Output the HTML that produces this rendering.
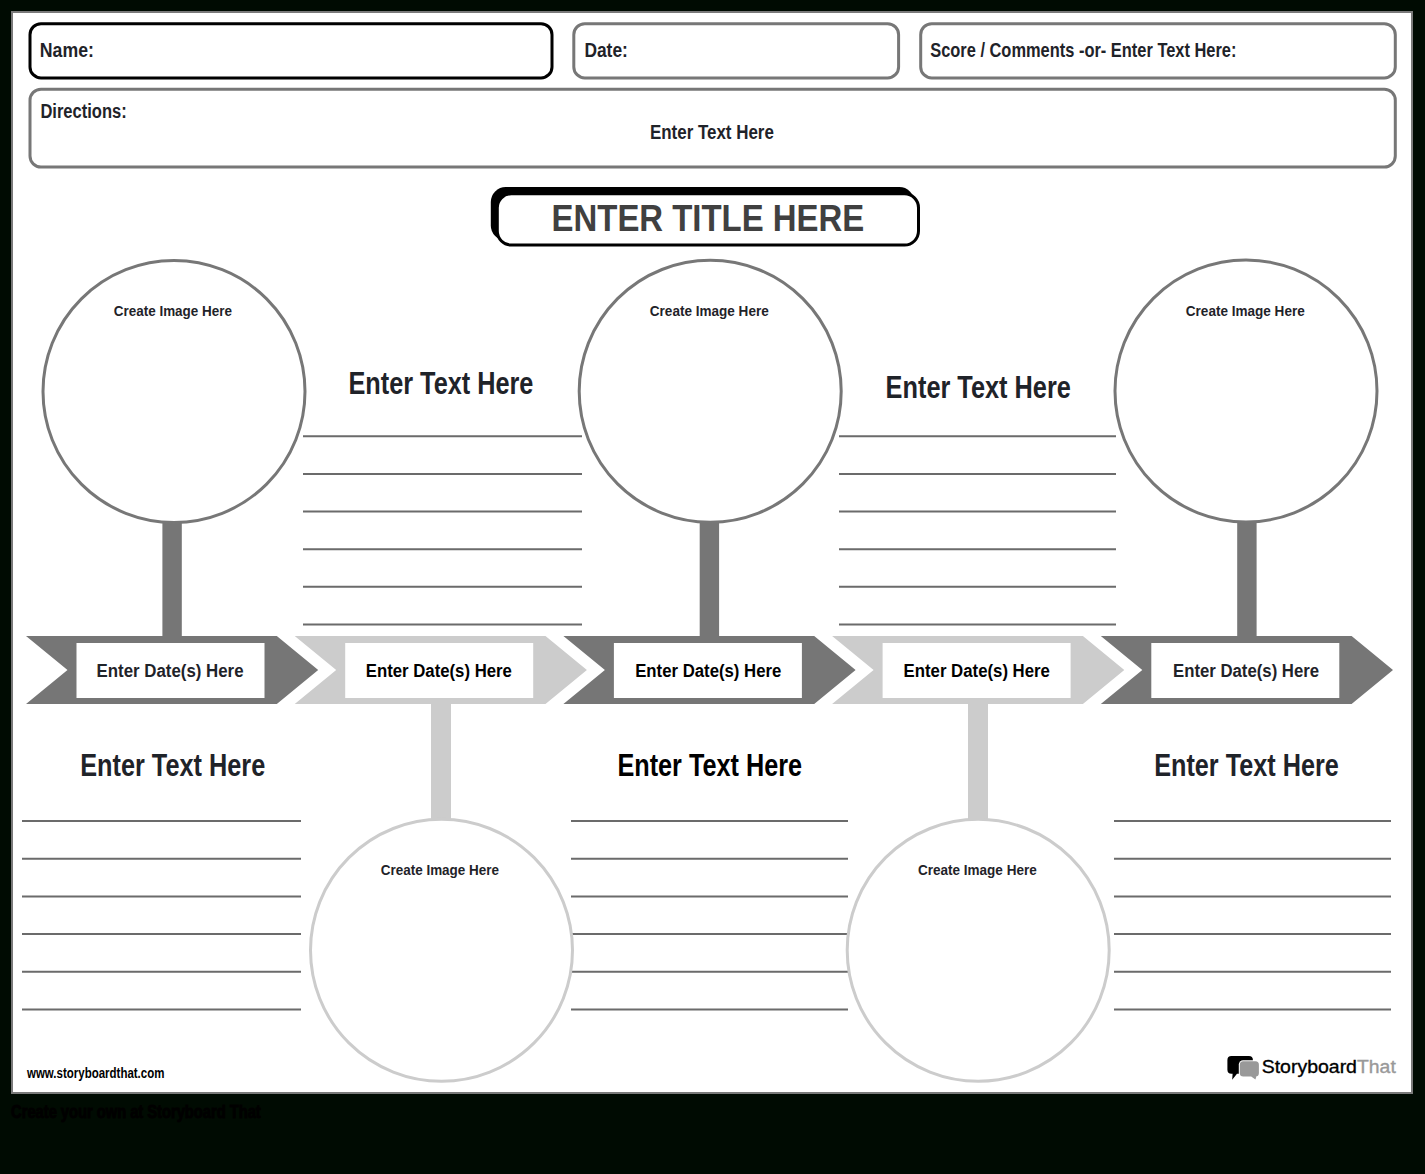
<!DOCTYPE html>
<html><head><meta charset="utf-8">
<style>
html,body{margin:0;padding:0;background:#000b02;width:1425px;height:1174px;overflow:hidden}
svg{display:block}
text{font-family:"Liberation Sans",sans-serif}
</style></head>
<body>
<svg width="1425" height="1174" viewBox="0 0 1425 1174">
<rect x="0" y="0" width="1425" height="1174" fill="#000b02"/>
<rect x="12" y="12" width="1400" height="1081" fill="#fff" stroke="#7a7a7a" stroke-width="2"/>
<rect x="30" y="23.7" width="522" height="54.2" rx="11" fill="none" stroke="#000" stroke-width="3"/>
<rect x="573.8" y="23.7" width="324.8" height="54.2" rx="11" fill="none" stroke="#777" stroke-width="3"/>
<rect x="920.7" y="23.7" width="474.6" height="54.2" rx="11" fill="none" stroke="#777" stroke-width="3"/>
<rect x="30" y="89.2" width="1365.3" height="77.9" rx="11" fill="none" stroke="#777" stroke-width="3"/>
<rect x="490.8" y="187" width="423.5" height="53.5" rx="15" fill="#000"/>
<rect x="497.3" y="193.8" width="421.2" height="51.3" rx="14" fill="#fff" stroke="#000" stroke-width="3"/>
<path stroke="#6b6b6b" stroke-width="2" d="M303 436.2H582M303 473.9H582M303 511.5H582M303 549.2H582M303 586.8H582M303 624.5H582M839 436.2H1116M839 473.9H1116M839 511.5H1116M839 549.2H1116M839 586.8H1116M839 624.5H1116M22 821.0H301M22 858.7H301M22 896.4H301M22 934.0H301M22 971.7H301M22 1009.4H301M571 821.0H848M571 858.7H848M571 896.4H848M571 934.0H848M571 971.7H848M571 1009.4H848M1114 821.0H1391M1114 858.7H1391M1114 896.4H1391M1114 934.0H1391M1114 971.7H1391M1114 1009.4H1391"/>
<rect x="162.4" y="520" width="19.4" height="118" fill="#767676"/>
<rect x="699.7" y="520" width="19.4" height="118" fill="#767676"/>
<rect x="1237.2" y="520" width="19.4" height="118" fill="#767676"/>
<rect x="431.0" y="702" width="20" height="118" fill="#cccccc"/>
<rect x="968.0" y="702" width="20" height="118" fill="#cccccc"/>
<circle cx="174.0" cy="391.5" r="131.0" fill="#fff" stroke="#777" stroke-width="3"/>
<circle cx="710.2" cy="391.3" r="131.0" fill="#fff" stroke="#777" stroke-width="3"/>
<circle cx="1246.0" cy="391.0" r="131.0" fill="#fff" stroke="#777" stroke-width="3"/>
<circle cx="441.5" cy="950.3" r="131.0" fill="#fff" stroke="#ccc" stroke-width="3"/>
<circle cx="978.2" cy="950.3" r="131.0" fill="#fff" stroke="#ccc" stroke-width="3"/>
<path fill="#767676" d="M26.0 636H276.8L318.2 670L276.8 704H26.0L67.5 670Z"/>
<rect x="76.5" y="643" width="188" height="55" fill="#fff"/>
<path fill="#cccccc" d="M294.7 636H545.5L586.9 670L545.5 704H294.7L336.2 670Z"/>
<rect x="345.2" y="643" width="188" height="55" fill="#fff"/>
<path fill="#767676" d="M563.4 636H814.2L855.6 670L814.2 704H563.4L604.9 670Z"/>
<rect x="613.9" y="643" width="188" height="55" fill="#fff"/>
<path fill="#cccccc" d="M832.1 636H1082.9L1124.3 670L1082.9 704H832.1L873.6 670Z"/>
<rect x="882.6" y="643" width="188" height="55" fill="#fff"/>
<path fill="#767676" d="M1100.8 636H1351.6L1393.0 670L1351.6 704H1100.8L1142.3 670Z"/>
<rect x="1151.3" y="643" width="188" height="55" fill="#fff"/>
<path fill="#000" d="M1231.4 1056H1248.9Q1252.9 1056 1252.9 1060V1069.8Q1252.9 1073.8 1248.9 1073.8H1237L1232.2 1079.8L1232.6 1073.8H1231.4Q1227.4 1073.8 1227.4 1069.8V1060Q1227.4 1056 1231.4 1056Z"/><rect x="1238.8" y="1060.3" width="21.2" height="17.2" rx="4.3" fill="#fff"/><path fill="#999" d="M1243.3 1061.3H1255.4Q1258.9 1061.3 1258.9 1064.8V1073Q1258.9 1076.5 1255.4 1076.5H1256.4L1255.4 1079.4L1251.2 1076.5H1243.3Q1239.8 1076.5 1239.8 1073V1064.8Q1239.8 1061.3 1243.3 1061.3Z"/>
<text id="name" x="39.80" y="56.90" font-size="20.35" fill="#1f2329" font-weight="bold" textLength="54.06" lengthAdjust="spacingAndGlyphs">Name:</text>
<text id="date" x="584.40" y="56.90" font-size="20.06" fill="#1f2329" font-weight="bold" textLength="43.47" lengthAdjust="spacingAndGlyphs">Date:</text>
<text id="score" x="930.20" y="56.60" font-size="19.62" fill="#1f2329" font-weight="bold" textLength="306.29" lengthAdjust="spacingAndGlyphs">Score / Comments -or- Enter Text Here:</text>
<text id="dir" x="40.40" y="117.70" font-size="19.48" fill="#1f2329" font-weight="bold" textLength="86.36" lengthAdjust="spacingAndGlyphs">Directions:</text>
<text id="dirt" x="650.00" y="138.60" font-size="19.33" fill="#1f2329" font-weight="bold" textLength="123.83" lengthAdjust="spacingAndGlyphs">Enter Text Here</text>
<text id="title" x="551.60" y="230.80" font-size="37.35" fill="#404040" font-weight="bold" textLength="312.64" lengthAdjust="spacingAndGlyphs">ENTER TITLE HERE</text>
<text id="ut1" x="348.40" y="393.80" font-size="31.69" fill="#1f2329" font-weight="bold" textLength="185.05" lengthAdjust="spacingAndGlyphs">Enter Text Here</text>
<text id="ut2" x="885.60" y="397.80" font-size="31.40" fill="#1f2329" font-weight="bold" textLength="185.27" lengthAdjust="spacingAndGlyphs">Enter Text Here</text>
<text id="lt1" x="80.20" y="776.00" font-size="31.98" fill="#1f2329" font-weight="bold" textLength="185.05" lengthAdjust="spacingAndGlyphs">Enter Text Here</text>
<text id="lt2" x="617.40" y="775.90" font-size="31.98" fill="#000000" font-weight="bold" textLength="184.64" lengthAdjust="spacingAndGlyphs">Enter Text Here</text>
<text id="lt3" x="1154.20" y="775.90" font-size="31.98" fill="#1f2329" font-weight="bold" textLength="184.63" lengthAdjust="spacingAndGlyphs">Enter Text Here</text>
<text id="d1" x="96.60" y="676.60" font-size="19.19" fill="#1f2329" font-weight="bold" textLength="146.92" lengthAdjust="spacingAndGlyphs">Enter Date(s) Here</text>
<text id="d2" x="365.80" y="676.60" font-size="19.19" fill="#000000" font-weight="bold" textLength="146.11" lengthAdjust="spacingAndGlyphs">Enter Date(s) Here</text>
<text id="d3" x="635.20" y="676.60" font-size="19.19" fill="#000000" font-weight="bold" textLength="146.12" lengthAdjust="spacingAndGlyphs">Enter Date(s) Here</text>
<text id="d4" x="903.60" y="676.60" font-size="19.19" fill="#000000" font-weight="bold" textLength="146.32" lengthAdjust="spacingAndGlyphs">Enter Date(s) Here</text>
<text id="d5" x="1173.00" y="676.60" font-size="19.19" fill="#1f2329" font-weight="bold" textLength="146.11" lengthAdjust="spacingAndGlyphs">Enter Date(s) Here</text>
<text id="c1" x="113.80" y="315.90" font-size="15.26" fill="#1f2329" font-weight="bold" textLength="118.11" lengthAdjust="spacingAndGlyphs">Create Image Here</text>
<text id="c2" x="649.80" y="315.90" font-size="15.26" fill="#1f2329" font-weight="bold" textLength="118.92" lengthAdjust="spacingAndGlyphs">Create Image Here</text>
<text id="c3" x="1185.80" y="315.90" font-size="15.26" fill="#1f2329" font-weight="bold" textLength="118.92" lengthAdjust="spacingAndGlyphs">Create Image Here</text>
<text id="c4" x="380.80" y="874.90" font-size="15.26" fill="#1f2329" font-weight="bold" textLength="118.11" lengthAdjust="spacingAndGlyphs">Create Image Here</text>
<text id="c5" x="918.00" y="874.90" font-size="15.26" fill="#1f2329" font-weight="bold" textLength="118.70" lengthAdjust="spacingAndGlyphs">Create Image Here</text>
<text id="www" x="27.00" y="1077.90" font-size="14.97" fill="#000000" font-weight="bold" textLength="137.41" lengthAdjust="spacingAndGlyphs">www.storyboardthat.com</text>
<text id="sb" x="1261.70" y="1073.30" font-size="18.75" fill="#000000" font-weight="normal" textLength="95.26" lengthAdjust="spacingAndGlyphs" stroke="#000000" stroke-width="0.35">Storyboard</text>
<text id="that" x="1357.00" y="1073.30" font-size="18.46" fill="#999999" font-weight="normal" textLength="38.79" lengthAdjust="spacingAndGlyphs" stroke="#999999" stroke-width="0.35">That</text>
<text id="create" x="11.10" y="1117.80" font-size="18.17" fill="#000000" font-weight="bold" textLength="249.60" lengthAdjust="spacingAndGlyphs" stroke="#000000" stroke-width="0.9">Create your own at Storyboard That</text>
</svg>
</body></html>
